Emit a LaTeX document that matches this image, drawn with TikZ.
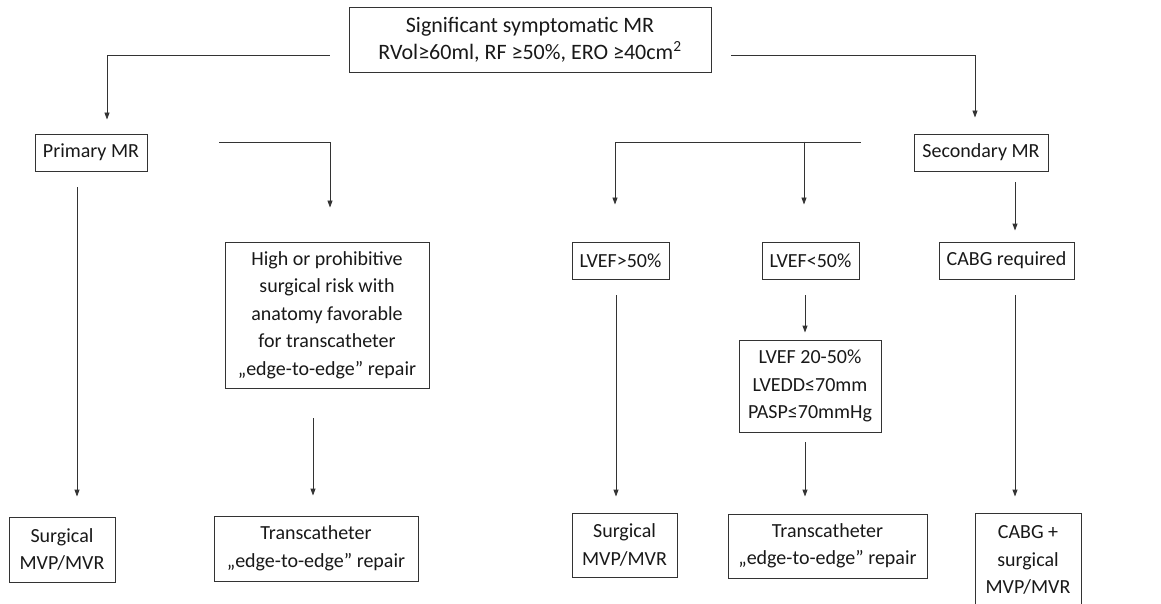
\documentclass[tikz,border=0pt]{standalone}
\usepackage{fontspec}
\setmainfont{Carlito}
\usetikzlibrary{arrows.meta}

\begin{document}
\begin{tikzpicture}[x=1pt,y=1pt,
  box/.style={draw=black!80,line width=0.9pt,text=black!90,align=center,
    inner sep=0pt,font=\fontsize{20}{27.5}\selectfont},
  arr/.style={draw=black!80,line width=0.9pt,-{Triangle[length=7pt,width=5pt]}}]
\useasboundingbox (0,0) rectangle (1161,-604);
\fill[white] (0,0) rectangle (1161,-604);

% top
\node[box,minimum width=362,minimum height=65,font=\fontsize{22}{27}\selectfont] (top) at (530,-39.5)
  {Significant symptomatic MR\\RVol≥60ml, RF ≥50\%, ERO ≥40cm\textsuperscript{2}};
\node[box,minimum width=112,minimum height=37] (prim) at (91,-152.5) {Primary MR};
\node[box,minimum width=134,minimum height=37] (sec) at (981,-152.5) {Secondary MR};

% middle row
\node[box,minimum width=204,minimum height=146] (risk) at (327,-315)
  {High or prohibitive\\surgical risk with\\anatomy favorable\\for transcatheter\\„edge-to-edge” repair};
\node[box,minimum width=97,minimum height=37] (gt50) at (620.5,-260.5) {LVEF>50\%};
\node[box,minimum width=97,minimum height=37] (lt50) at (810.5,-260.5) {LVEF<50\%};
\node[box,minimum width=135,minimum height=37] (cabg) at (1006.5,-260.5) {CABG required};
\node[box,minimum width=142,minimum height=92] (lvcrit) at (810,-386)
  {LVEF 20-50\%\\LVEDD≤70mm\\PASP≤70mmHg};

% bottom row
\node[box,minimum width=106,minimum height=65] (surgA) at (62,-549.5) {Surgical\\MVP/MVR};
\node[box,minimum width=204,minimum height=65] (tcA) at (316,-548.5) {Transcatheter\\„edge-to-edge” repair};
\node[box,minimum width=105,minimum height=64] (surgB) at (624.5,-545) {Surgical\\MVP/MVR};
\node[box,minimum width=199,minimum height=64] (tcB) at (827.5,-546) {Transcatheter\\„edge-to-edge” repair};
\node[box,minimum width=106,minimum height=94] (cabgB) at (1028,-560) {CABG +\\surgical\\MVP/MVR};

% connectors
\draw[arr] ([xshift=-19pt,yshift=-15.5pt]top.west) -| ([xshift=16pt,yshift=14pt]prim.north);
\draw[arr] ([xshift=20pt,yshift=-15.5pt]top.east) -| ([xshift=-6pt,yshift=16pt]sec.north);
\draw[arr] ([xshift=72pt,yshift=10.5pt]prim.east) -| ([xshift=3pt,yshift=34pt]risk.north);
\draw[arr] ([xshift=-53pt,yshift=10.5pt]sec.west) -| ([xshift=-5.5pt,yshift=37pt]gt50.north);
\draw[arr] ([xshift=-6.5pt,yshift=100pt]lt50.north) -- ([xshift=-6.5pt,yshift=37pt]lt50.north);
\draw[arr] ([xshift=34pt,yshift=-11pt]sec.south) -- ([xshift=8.5pt,yshift=11pt]cabg.north);
\draw[arr] ([xshift=-14pt,yshift=-16pt]prim.south) -- ([xshift=15pt,yshift=20pt]surgA.north);
\draw[arr] ([xshift=-14pt,yshift=-30pt]risk.south) -- ([xshift=-3pt,yshift=20pt]tcA.north);
\draw[arr] ([xshift=-4.5pt,yshift=-16pt]gt50.south) -- ([xshift=-8.5pt,yshift=16pt]surgB.north);
\draw[arr] ([xshift=-5.5pt,yshift=-16pt]lt50.south) -- ([xshift=-5pt,yshift=7pt]lvcrit.north);
\draw[arr] ([xshift=-5pt,yshift=-10pt]lvcrit.south) -- ([xshift=-22.5pt,yshift=17pt]tcB.north);
\draw[arr] ([xshift=8.5pt,yshift=-16pt]cabg.south) -- ([xshift=-13pt,yshift=16pt]cabgB.north);
\end{tikzpicture}
\end{document}
